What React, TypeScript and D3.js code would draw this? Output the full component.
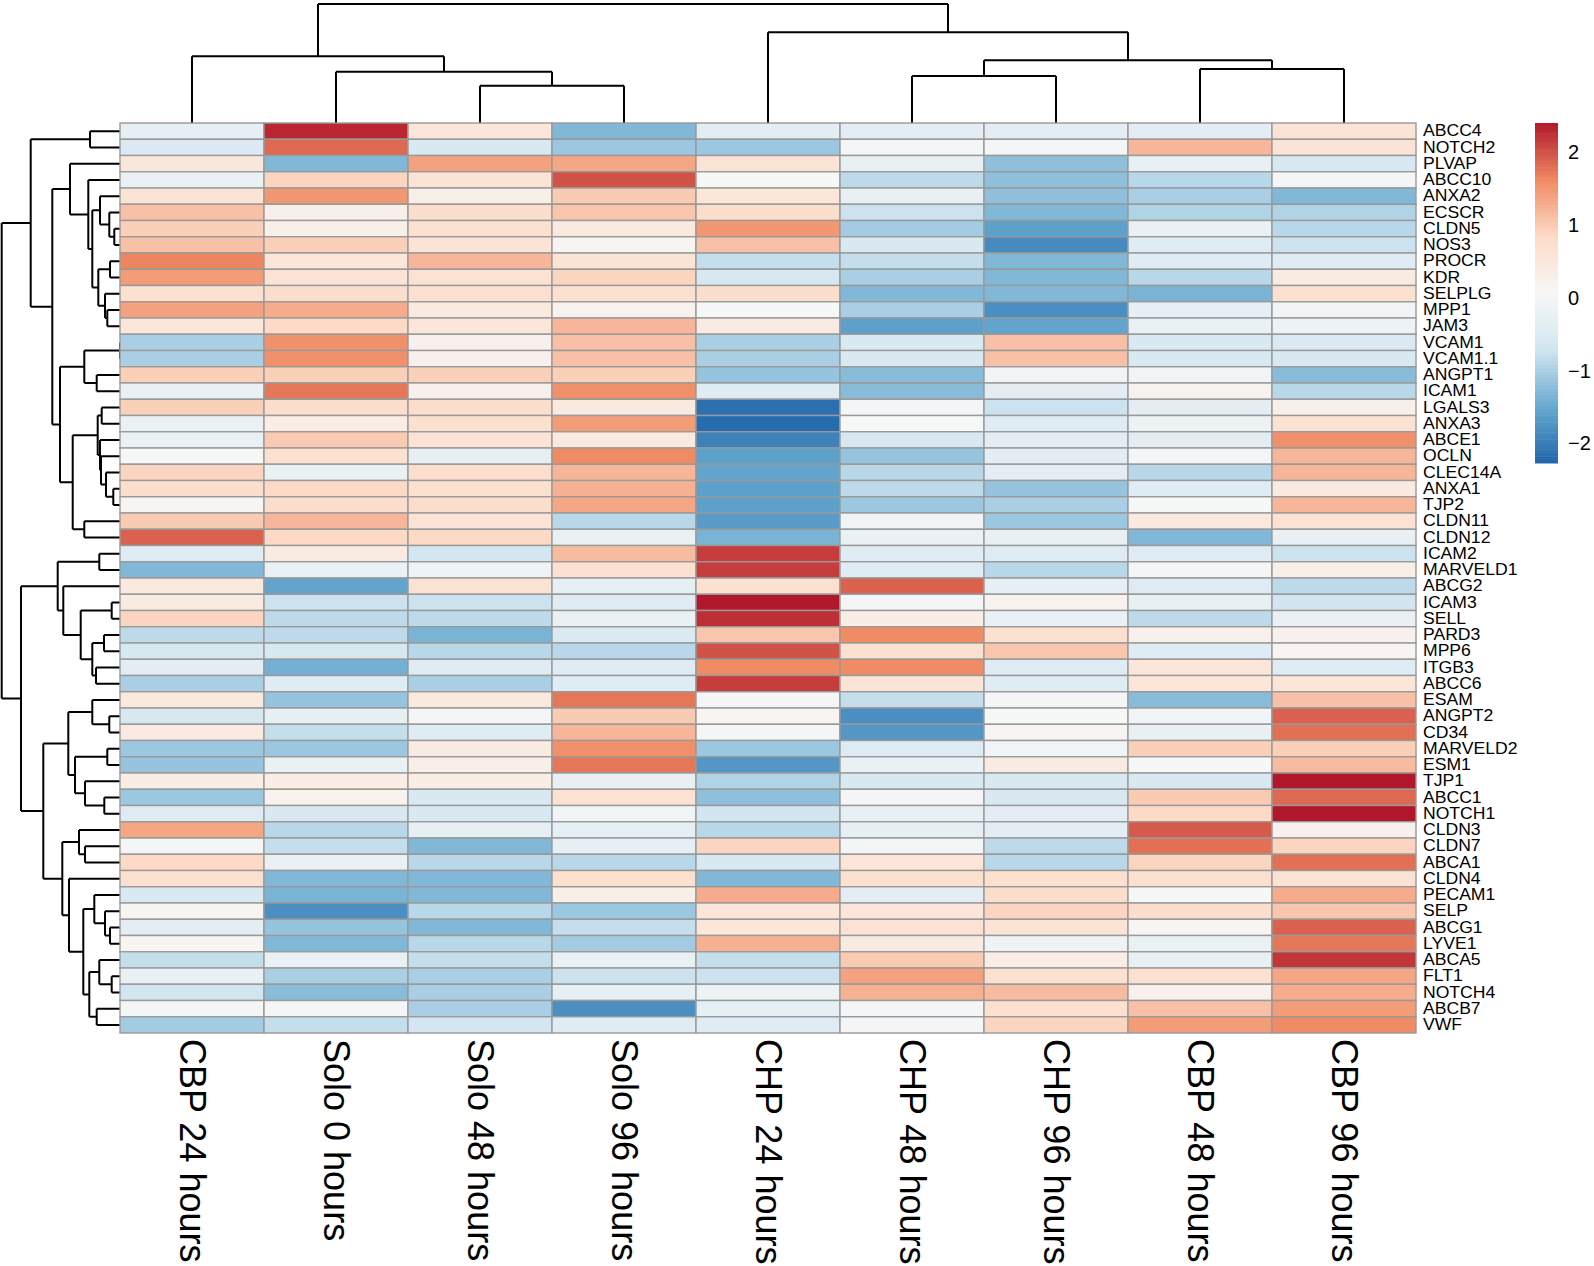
import React from 'react';
import * as d3 from 'd3';

const colLabels = ["CBP 24 hours", "Solo 0 hours", "Solo 48 hours", "Solo 96 hours", "CHP 24 hours", "CHP 48 hours", "CHP 96 hours", "CBP 48 hours", "CBP 96 hours"];

const rowLabels = ["ABCC4", "NOTCH2", "PLVAP", "ABCC10", "ANXA2", "ECSCR", "CLDN5", "NOS3", "PROCR", "KDR", "SELPLG", "MPP1", "JAM3", "VCAM1", "VCAM1.1", "ANGPT1", "ICAM1", "LGALS3", "ANXA3", "ABCE1", "OCLN", "CLEC14A", "ANXA1", "TJP2", "CLDN11", "CLDN12", "ICAM2", "MARVELD1", "ABCG2", "ICAM3", "SELL", "PARD3", "MPP6", "ITGB3", "ABCC6", "ESAM", "ANGPT2", "CD34", "MARVELD2", "ESM1", "TJP1", "ABCC1", "NOTCH1", "CLDN3", "CLDN7", "ABCA1", "CLDN4", "PECAM1", "SELP", "ABCG1", "LYVE1", "ABCA5", "FLT1", "NOTCH4", "ABCB7", "VWF"];

// z-scores, rows in rowLabels order, columns in colLabels order
const values: number[][] = [
  [-0.3, 2.3, 0.55, -1.3, -0.35, -0.35, -0.35, -0.35, 0.6],
  [-0.5, 1.85, -0.55, -1.1, -1.1, 0.0, 0.0, 1.2, 0.6],
  [0.5, -1.3, 1.4, 1.35, 0.6, -0.25, -1.2, -0.25, -0.6],
  [-0.2, 0.9, 0.6, 2.0, 0.05, -0.85, -1.2, -0.9, 0.0],
  [0.6, 1.5, 0.3, 1.0, 0.55, -0.25, -1.2, -1.0, -1.3],
  [1.1, 0.3, 0.75, 1.05, 0.75, -0.75, -1.3, -0.95, -0.95],
  [0.95, 0.3, 0.7, 0.45, 1.5, -1.05, -1.6, -0.2, -0.9],
  [1.1, 0.95, 0.6, 0.15, 1.1, -0.55, -1.85, -0.4, -0.75],
  [1.65, 0.55, 1.2, 0.6, -0.8, -0.8, -1.3, -0.4, -0.4],
  [1.45, 0.6, 0.65, 0.9, -0.6, -1.0, -1.3, -0.9, 0.4],
  [0.7, 0.75, 0.7, 0.7, 0.75, -1.3, -1.3, -1.35, 0.7],
  [1.4, 1.3, 0.45, 0.2, 0.05, -1.0, -1.8, -0.3, -0.05],
  [0.55, 0.85, 0.55, 1.2, 0.4, -1.6, -1.55, -0.2, -0.15],
  [-1.0, 1.55, 0.25, 1.1, -1.0, -0.55, 1.1, -0.55, -0.5],
  [-1.0, 1.55, 0.25, 1.1, -1.0, -0.55, 1.1, -0.55, -0.55],
  [0.95, 0.95, 0.95, 0.95, -1.15, -1.25, -0.05, -0.05, -1.25],
  [-0.2, 1.75, 0.25, 1.55, -0.4, -1.25, -0.35, 0.2, -0.9],
  [0.95, 0.75, 0.75, 0.45, -2.15, 0.0, -0.75, -0.35, 0.3],
  [-0.2, 0.35, 0.7, 1.45, -2.2, 0.05, -0.4, -0.15, 0.65],
  [-0.2, 1.0, 0.6, 0.45, -1.95, -0.6, -0.35, -0.35, 1.55],
  [0.05, 0.7, -0.3, 1.6, -1.6, -1.15, -0.35, 0.0, 1.2],
  [0.9, -0.2, 0.75, 1.2, -1.55, -0.9, -0.35, -0.9, 1.2],
  [0.75, 0.85, 0.7, 1.25, -1.6, -0.85, -1.15, -0.4, 0.45],
  [0.15, 0.75, 0.75, 1.35, -1.6, -1.1, -1.0, 0.05, 1.2],
  [1.0, 1.2, 0.6, -0.9, -1.65, -0.05, -1.1, 0.45, 0.65],
  [1.9, 0.85, 0.85, -0.2, -1.35, -0.2, -0.25, -1.3, -0.25],
  [-0.4, 0.4, -0.65, 1.15, 2.15, -0.4, -0.45, -0.4, -0.75],
  [-1.3, -0.2, -0.1, 0.7, 2.15, -0.4, -0.9, 0.0, 0.3],
  [0.45, -1.55, 0.65, -0.3, 0.7, 1.9, -0.3, -0.45, -0.85],
  [0.4, -0.75, -0.75, -0.4, 2.4, 0.0, 0.2, -0.25, -0.7],
  [0.9, -0.85, -0.85, -0.2, 2.25, 0.35, -0.2, -0.85, -0.2],
  [-0.85, -0.85, -1.35, -0.5, 1.05, 1.6, 0.7, 0.25, 0.25],
  [-0.6, -0.6, -0.9, -0.9, 2.0, 0.7, 1.05, -0.4, 0.15],
  [-0.35, -1.4, -0.4, -0.4, 1.6, 1.6, -0.4, 0.55, -0.4],
  [-1.0, -0.4, -1.0, -0.4, 2.15, 0.6, -0.4, 0.55, 0.55],
  [0.45, -1.15, 0.45, 1.75, 0.0, -0.8, 0.0, -1.25, 1.1],
  [-0.6, -0.3, 0.0, 1.0, 0.15, -1.8, 0.05, -0.05, 1.9],
  [0.4, -0.8, -0.4, 1.2, 0.0, -1.7, 0.15, -0.25, 1.8],
  [-1.1, -1.1, 0.4, 1.55, -1.1, -0.45, -0.05, 0.95, 0.95],
  [-1.15, -0.2, 0.3, 1.75, -1.7, -0.2, 0.4, 0.05, 1.15],
  [0.35, 0.35, 0.35, -0.25, -0.95, -0.55, -0.55, -0.55, 2.4],
  [-1.1, 0.2, -0.55, 0.65, -1.2, 0.0, -0.55, 1.0, 1.85],
  [-0.45, -0.55, -0.55, -0.05, -0.7, -0.25, -0.35, 0.85, 2.4],
  [1.35, -0.9, -0.3, -0.3, -0.9, -0.3, -0.35, 1.95, 0.25],
  [0.0, -0.8, -1.3, -0.3, 0.9, 0.0, -0.85, 1.8, 0.9],
  [0.85, -0.2, -0.9, -0.9, -0.55, 0.55, -0.9, 0.9, 1.8],
  [0.7, -1.3, -1.3, 0.7, -1.3, 0.7, 0.7, 0.7, 0.65],
  [-0.55, -1.35, -1.3, 0.3, 1.3, -0.35, 0.75, 0.05, 1.3],
  [0.15, -1.8, -0.9, -1.1, 0.55, 0.55, 0.9, 0.75, 1.05],
  [-0.35, -1.15, -1.3, -0.8, 0.55, 0.65, 0.6, 0.15, 1.9],
  [0.15, -1.3, -0.9, -1.05, 1.25, 0.4, -0.1, -0.2, 1.75],
  [-0.8, -0.2, -0.8, -0.2, -0.8, 1.0, 0.35, -0.25, 2.2],
  [-0.2, -1.0, -1.0, -0.75, -0.75, 1.4, 0.7, 0.7, 1.35],
  [-0.7, -1.25, -1.0, -0.3, -0.15, 1.25, 1.15, 0.25, 1.3],
  [0.0, 0.0, -1.0, -1.8, -0.3, 0.0, 0.7, 1.1, 1.45],
  [-1.05, -0.8, -0.65, -0.4, -0.4, 0.0, 0.9, 1.45, 1.6],
];

const colorStops = ["#2166AC", "#67A9CF", "#D1E5F0", "#F7F7F7", "#FDDBC7", "#EF8A62", "#B2182B"];
const valueRange: [number, number] = [-2.27, 2.4];
const legendTicks = [2, 1, 0, -1, -2];

type TreeNode = string | { h: number; c: [TreeNode, TreeNode] };
const m = (h: number, a: TreeNode, b: TreeNode): TreeNode => ({ h, c: [a, b] });

// column clustering (merge heights)
const colTree: TreeNode = m(119,
  m(66.7, "CBP 24 hours", m(51.3, "Solo 0 hours", m(37.3, "Solo 48 hours", "Solo 96 hours"))),
  m(90.7, "CHP 24 hours", m(62.7, m(47, "CHP 48 hours", "CHP 96 hours"), m(54, "CBP 48 hours", "CBP 96 hours")))
);

// row clustering (merge heights)
const rowTree: TreeNode = m(118.3,
  m(89.3,
    m(30, "ABCC4", "NOTCH2"),
    m(67.7,
      m(50, "PLVAP", m(31.7, "ABCC10", m(27.7,
        m(20, "ANXA2", m(10.7, "ECSCR", m(5.7, "CLDN5", "NOS3"))),
        m(21.7, m(10, "PROCR", "KDR"), m(15, "SELPLG", m(12.7, "MPP1", "JAM3")))
      ))),
      m(60,
        m(35.7, m(0, "VCAM1", "VCAM1.1"), m(23.3, "ANGPT1", "ICAM1")),
        m(47.3,
          m(22.3, m(18.3, "LGALS3", "ANXA3"), m(20, "ABCE1", m(19, "OCLN", m(14, "CLEC14A", m(6.7, "ANXA1", "TJP2"))))),
          m(35.7, "CLDN11", "CLDN12")
        )
      )
    )
  ),
  m(99,
    m(62.3,
      m(20.7, "ICAM2", "MARVELD1"),
      m(56.7, "ABCG2", m(39.3, m(8.3, "ICAM3", "SELL"), m(27.7, m(16, "PARD3", "MPP6"), m(24, "ITGB3", "ABCC6"))))
    ),
    m(76.7,
      m(51.7,
        m(27.7, "ESAM", m(10.7, "ANGPT2", "CD34")),
        m(45, m(12.7, "MARVELD2", "ESM1"), m(35, "TJP1", m(15.7, "ABCC1", "NOTCH1")))
      ),
      m(57.7,
        m(41, "CLDN3", m(35, "CLDN7", "ABCA1")),
        m(51, "CLDN4", m(36.7,
          m(25.7, "PECAM1", m(15, "SELP", m(10, "ABCG1", "LYVE1"))),
          m(30.7, m(20.7, "ABCA5", m(8.3, "FLT1", "NOTCH4")), m(23.3, "ABCB7", "VWF"))
        ))
      )
    )
  )
);

type Seg = [number, number, number, number]; // pos1, h1, pos2, h2
function layoutTree(node: TreeNode, leafPos: (n: string) => number, segs: Seg[]): { p: number; h: number } {
  if (typeof node === 'string') return { p: leafPos(node), h: 0 };
  const a = layoutTree(node.c[0], leafPos, segs);
  const b = layoutTree(node.c[1], leafPos, segs);
  segs.push([a.p, a.h, a.p, node.h]);
  segs.push([a.p, node.h, b.p, node.h]);
  segs.push([b.p, b.h, b.p, node.h]);
  return { p: (a.p + b.p) / 2, h: node.h };
}

const FONT = "'Liberation Sans', Arial, Helvetica, sans-serif";

export default function App() {
  const W = 1594, H = 1266;
  const x = d3.scaleBand<string>().domain(colLabels).range([120, 1416]);
  const y = d3.scaleBand<string>().domain(rowLabels).range([123, 1033]);
  const [lo, hi] = valueRange;
  const color = d3.scaleLinear<string>()
    .domain(colorStops.map((_, i) => lo + (i * (hi - lo)) / (colorStops.length - 1)))
    .range(colorStops)
    .interpolate(d3.interpolateRgb)
    .clamp(true);

  const colH = d3.scaleLinear().domain([0, 119]).range([123, 4]);
  const rowH = d3.scaleLinear().domain([0, 118.3]).range([120, 1.7]);

  const colSegs: Seg[] = [];
  layoutTree(colTree, (n) => (x(n) as number) + x.bandwidth() / 2, colSegs);
  const rowSegs: Seg[] = [];
  layoutTree(rowTree, (n) => (y(n) as number) + y.bandwidth() / 2, rowSegs);

  const colPath = colSegs.map(([p1, h1, p2, h2]) => `M${p1},${colH(h1)}L${p2},${colH(h2)}`).join('');
  const rowPath = rowSegs.map(([p1, h1, p2, h2]) => `M${rowH(h1)},${p1}L${rowH(h2)},${p2}`).join('');

  const leg = d3.scaleLinear().domain([lo, hi]).range([463, 123]);
  const nBins = 100;
  const bins = d3.range(nBins).map((i) => lo + ((i + 0.5) * (hi - lo)) / nBins);
  const binH = (leg(lo) - leg(hi)) / nBins;

  return (
    <svg width={W} height={H} style={{ position: 'absolute', left: 0, top: 0, background: '#fff' }} fontFamily={FONT}>
      <rect x={0} y={0} width={W} height={H} fill="#fff" />
      <path d={colPath} fill="none" stroke="#000" strokeWidth={2} />
      <path d={rowPath} fill="none" stroke="#000" strokeWidth={2} />
      <g>
        {rowLabels.map((r, i) =>
          colLabels.map((c, j) => (
            <rect key={r + c} x={x(c)} y={y(r)} width={x.bandwidth()} height={y.bandwidth()}
              fill={color(values[i][j])} stroke="#999999" strokeWidth={1.4} />
          ))
        )}
      </g>
      <g fontSize={16}>
        {rowLabels.map((r) => (
          <text key={r} transform={`translate(1423,${(y(r) as number) + y.bandwidth() / 2}) scale(1.1,1)`} dominantBaseline="central">{r}</text>
        ))}
      </g>
      <g fontSize={36}>
        {colLabels.map((c) => (
          <text key={c} transform={`translate(${(x(c) as number) + x.bandwidth() / 2},1039) rotate(90)`} dominantBaseline="central">{c}</text>
        ))}
      </g>
      <g>
        {bins.map((v, i) => (
          <rect key={i} x={1535} y={leg(v) - binH / 2} width={23} height={binH + 0.5} fill={color(v)} />
        ))}
      </g>
      <g fontSize={20}>
        {legendTicks.map((t) => (
          <text key={t} x={1568} y={leg(t)} dominantBaseline="central">{t < 0 ? `\u2212${Math.abs(t)}` : `${t}`}</text>
        ))}
      </g>
    </svg>
  );
}
